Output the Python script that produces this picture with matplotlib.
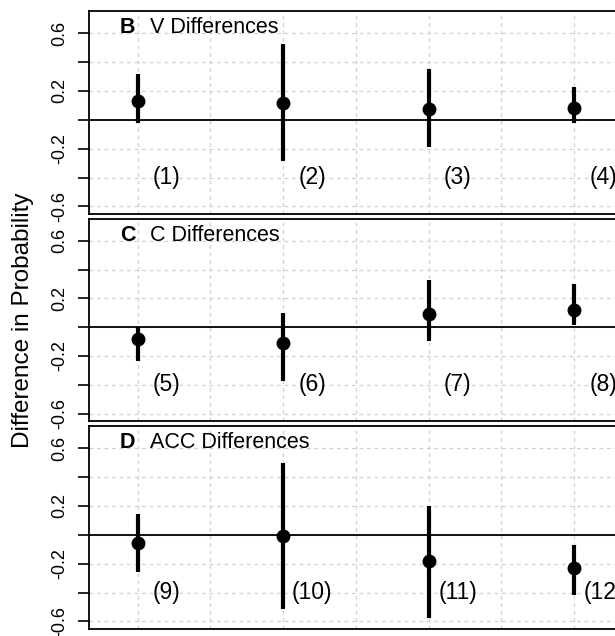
import numpy as np
import matplotlib.pyplot as plt

plt.rcParams['font.family'] = ['Liberation Sans', 'DejaVu Sans']

# estimates and 95% intervals
positions = [1, 2, 3, 4]

v_est = [0.127, 0.118, 0.071, 0.080]
v_lo = [-0.023, -0.282, -0.190, -0.021]
v_hi = [0.318, 0.526, 0.353, 0.226]

c_est = [-0.079, -0.111, 0.090, 0.120]
c_lo = [-0.235, -0.376, -0.095, 0.014]
c_hi = [0.003, 0.097, 0.327, 0.299]

acc_est = [-0.056, -0.007, -0.185, -0.231]
acc_lo = [-0.255, -0.514, -0.577, -0.417]
acc_hi = [0.144, 0.493, 0.197, -0.069]

panels = [
    ('B', 'V Differences', v_est, v_lo, v_hi, ['(1)', '(2)', '(3)', '(4)']),
    ('C', 'C Differences', c_est, c_lo, c_hi, ['(5)', '(6)', '(7)', '(8)']),
    ('D', 'ACC Differences', acc_est, acc_lo, acc_hi, ['(9)', '(10)', '(11)', '(12)']),
]

W, H = 615, 636
fig = plt.figure(figsize=(W / 100, H / 100), dpi=100)

# panel boxes in pixels (top, bottom)
boxes = [(11, 214), (219, 421), (426, 629)]
left_px = 89
right_px = 650
px_per_unit = 145.5
x0 = 0.665
x1 = x0 + (right_px - left_px) / px_per_unit

yticks = np.round(np.arange(-0.6, 0.61, 0.2), 1)
ylabels = ['-0.6', '', '-0.2', '', '0.2', '', '0.6']

for (top, bot), (letter, title, est, lo, hi, labs) in zip(boxes, panels):
    ax = fig.add_axes([left_px / W, 1 - bot / H, (right_px - left_px) / W, (bot - top) / H])
    ax.set_xlim(x0, x1)
    ax.set_ylim(-0.652, 0.752)

    ax.set_xticks(np.arange(1, 5, 0.5))
    ax.set_xticklabels([])
    ax.tick_params(axis='x', length=0)
    ax.set_yticks(yticks)
    ax.set_yticklabels(ylabels, fontsize=13, rotation=90)
    for t in ax.get_yticklabels():
        t.set_va('center')
    ax.tick_params(axis='y', length=8, width=1.2, pad=7)

    ax.grid(True, color='#d0d0d0', linestyle=(0, (3, 3)), linewidth=0.9)
    ax.set_axisbelow(True)
    for s in ax.spines.values():
        s.set_linewidth(1.3)

    ax.axhline(0, color='black', linewidth=1.3)
    ax.vlines(positions, lo, hi, color='black', linewidth=3)
    ax.plot(positions, est, 'o', color='black', markersize=9)

    for x, lab in zip(positions, labs):
        ax.text(x + 0.2, -0.4, lab, ha='center', va='center', fontsize=16.5)

    ax.text(0.878, 0.6, letter, fontsize=15.5, fontweight='bold', ha='left', va='baseline')
    ax.text(1.084, 0.6, title, fontsize=15.5, ha='left', va='baseline')

fig.text(23 / W, 1 - 320 / H, 'Difference in Probability', rotation=90,
         ha='center', va='center', fontsize=17.5)

fig.savefig('out.png', dpi=100)
